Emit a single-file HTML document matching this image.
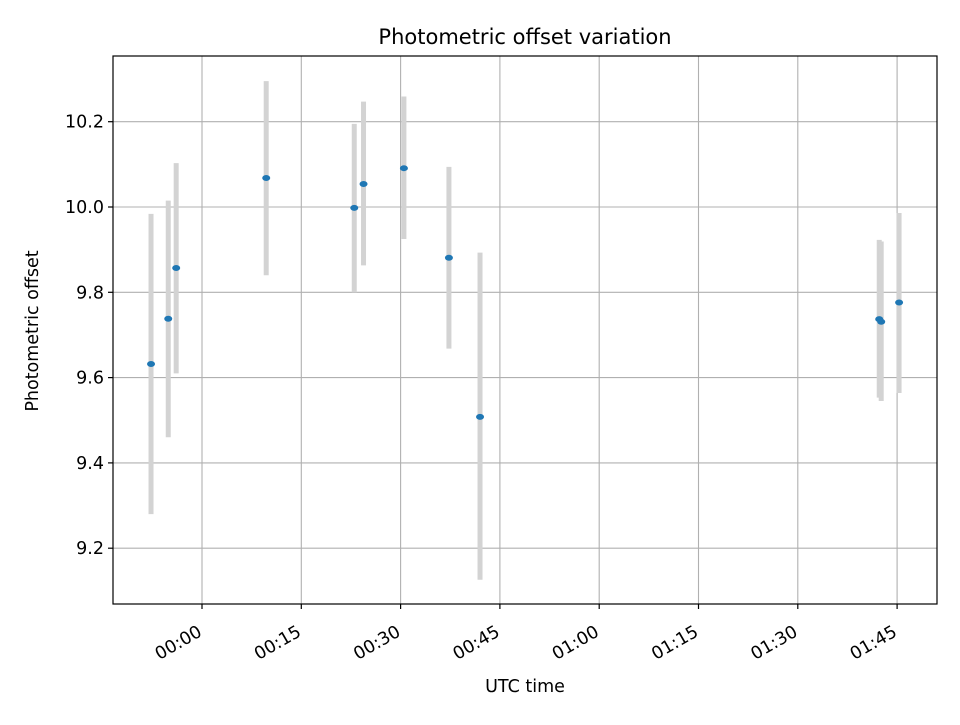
<!DOCTYPE html>
<html><head><meta charset="utf-8"><style>
body{margin:0;background:#fff}
text{font-family:"DejaVu Sans","Liberation Sans",sans-serif;fill:#000}
</style></head><body>
<svg id="chart" width="960" height="720" xmlns="http://www.w3.org/2000/svg">
<rect width="960" height="720" fill="#fff"/>
<g id="grid"></g>
<g id="bars"></g>
<g id="pts"></g>
<rect x="113" y="56" width="824" height="548" fill="none" stroke="#000" stroke-width="1.2"/>
<g id="ticks"></g>
<text x="525" y="44" font-size="21" text-anchor="middle">Photometric offset variation</text>
<text x="525" y="692" font-size="17.5" text-anchor="middle">UTC time</text>
<text x="0" y="0" font-size="17.5" text-anchor="middle" transform="translate(38,331) rotate(-90)">Photometric offset</text>
</svg>
<script>
// minutes relative to 00:00 UTC
const times = [-7.7,-5.1,-3.9,9.7,23.0,24.4,30.5,37.3,42.0,102.3,102.6,105.3];
const offsets = [9.632,9.738,9.857,10.068,9.998,10.054,10.091,9.881,9.508,9.737,9.731,9.776];
const errLow = [9.28,9.46,9.61,9.84,9.80,9.863,9.925,9.668,9.126,9.553,9.545,9.564];
const errHigh = [9.984,10.015,10.103,10.295,10.195,10.247,10.259,10.094,9.893,9.923,9.919,9.986];
const xTicks = [0,15,30,45,60,75,90,105];
const xTickLabels = ["00:00","00:15","00:30","00:45","01:00","01:15","01:30","01:45"];
const yTicks = [9.2,9.4,9.6,9.8,10.0,10.2];
const yTickLabels = ["9.2","9.4","9.6","9.8","10.0","10.2"];

const X0=113,X1=937,Y0=56,Y1=604;
const xs = m => 202 + m*(99.3/15);
const ys = v => 207 - (v-10.0)*(85.3/0.2);
const NS="http://www.w3.org/2000/svg";
function mk(tag,attrs,parent){const e=document.createElementNS(NS,tag);for(const k in attrs)e.setAttribute(k,attrs[k]);parent.appendChild(e);return e;}
const grid=document.getElementById('grid'),ticks=document.getElementById('ticks'),bars=document.getElementById('bars'),pts=document.getElementById('pts');
xTicks.forEach((t,i)=>{const x=xs(t);
 const g=mk('line',{x1:x,x2:x,y1:Y0,y2:Y1,stroke:'#b0b0b0','stroke-width':1.1},grid);
 
 const tk=mk('line',{x1:x,x2:x,y1:Y1,y2:Y1+5,stroke:'#000','stroke-width':1.2},ticks);
 
 const tx=mk('text',{'font-size':17.5,'text-anchor':'end',transform:`translate(${x+1},${Y1+31}) rotate(-30)`},ticks);
 tx.textContent=xTickLabels[i];
 
});
yTicks.forEach((t,i)=>{const y=ys(t);
 const g=mk('line',{x1:X0,x2:X1,y1:y,y2:y,stroke:'#b0b0b0','stroke-width':1.1},grid);
 
 const tk=mk('line',{x1:X0-5,x2:X0,y1:y,y2:y,stroke:'#000','stroke-width':1.2},ticks);
 
 const tx=mk('text',{x:X0-9,y:y+6,'font-size':17.5,'text-anchor':'end'},ticks);
 tx.textContent=yTickLabels[i];
 
});
times.forEach((t,i)=>{const x=xs(t);
 const b=mk('line',{x1:x,x2:x,y1:ys(errHigh[i]),y2:ys(errLow[i]),stroke:'#d3d3d3','stroke-width':5},bars);
 
 const p=mk('ellipse',{cx:x,cy:ys(offsets[i]),rx:4,ry:3,fill:'#1f77b4'},pts);
 
});
</script>
</body></html>
